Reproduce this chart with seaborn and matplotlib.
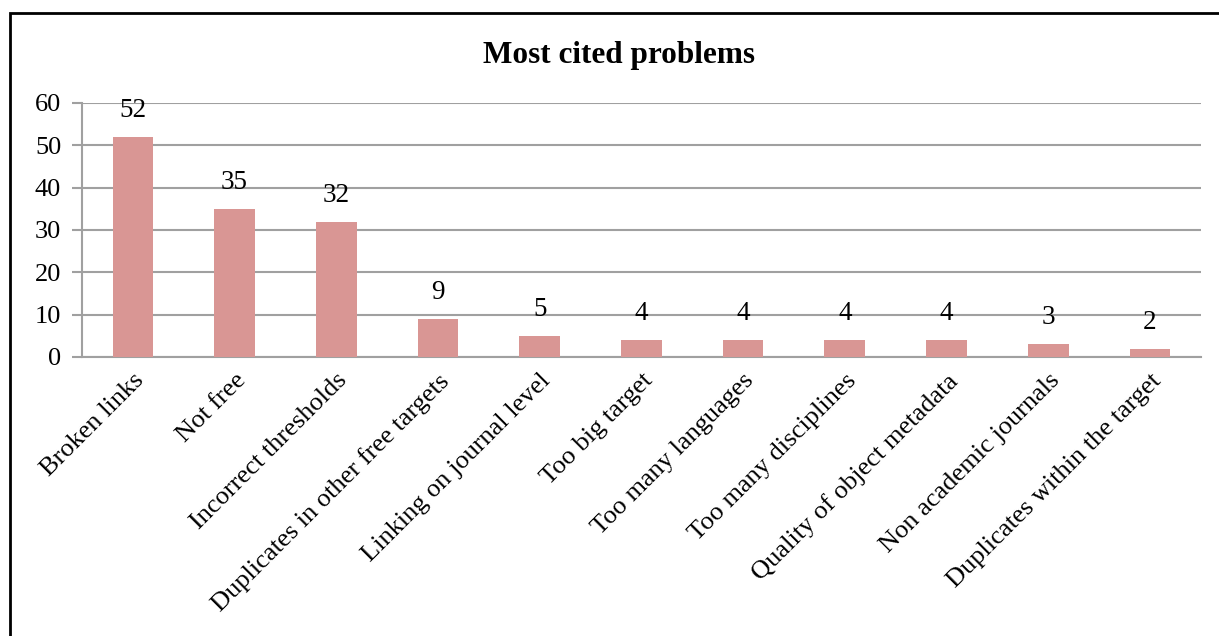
import matplotlib
matplotlib.use("Agg")
import matplotlib.pyplot as plt
import seaborn as sns
import pandas as pd
from matplotlib.patches import Rectangle

# Chart data
problems = ['Broken links', 'Not free', 'Incorrect thresholds',
            'Duplicates in other free targets', 'Linking on journal level',
            'Too big target', 'Too many languages', 'Too many disciplines',
            'Quality of object metadata', 'Non academic journals',
            'Duplicates within the target']
counts = [52, 35, 32, 9, 5, 4, 4, 4, 4, 3, 2]
y_ticks = [0, 10, 20, 30, 40, 50, 60]

df = pd.DataFrame({'problem': problems, 'count': counts})

sns.set_theme(style="white")
plt.rcParams['font.family'] = ['Liberation Serif', 'DejaVu Serif']
plt.rcParams['text.color'] = 'black'
plt.rcParams['xtick.color'] = 'black'
plt.rcParams['ytick.color'] = 'black'

bar_color = '#D99694'
grid_color = '#A0A0A0'

fig = plt.figure(figsize=(12.19, 6.36), dpi=100)
ax = fig.add_axes([0.0673, 0.4387, 0.9177, 0.3994])

sns.barplot(data=df, x='problem', y='count', color=bar_color,
            width=0.4, saturation=1, linewidth=0, ax=ax, zorder=3)

ax.set_ylim(0, 60)
ax.set_xlim(-0.5, len(problems) - 0.5)
ax.set_yticks(y_ticks)
ax.set_yticklabels([str(t) for t in y_ticks], fontsize=19)
ax.set_xlabel('')
ax.set_ylabel('')

# horizontal gridlines
ax.yaxis.grid(True, color=grid_color, linewidth=1.5, zorder=0)
ax.set_axisbelow(True)

for side in ['top', 'right']:
    ax.spines[side].set_visible(False)
for side in ['left', 'bottom']:
    ax.spines[side].set_color(grid_color)
    ax.spines[side].set_linewidth(1.5)

# category boundary ticks like Excel
ax.set_xticks([i - 0.5 for i in range(len(problems) + 1)], minor=True)
ax.tick_params(axis='x', which='minor', length=7, width=1.5, color=grid_color, direction='out')
ax.tick_params(axis='x', which='major', length=0, pad=9, labelcolor='black')
ax.tick_params(axis='y', which='major', length=7, width=1.5, color=grid_color,
               direction='out', left=True, pad=8, labelcolor='black')
ax.set_xticks(range(len(problems)))
ax.set_xticklabels(problems, rotation=45, ha='right', rotation_mode='anchor', fontsize=19)

# value labels
for i, v in enumerate(counts):
    ax.annotate(str(v), (i, v), xytext=(0, 10), textcoords='offset points',
                ha='center', va='bottom', fontsize=19.5, color='black')

fig.suptitle('Most cited problems', x=0.508, y=0.935, fontsize=22.5,
             fontweight='bold', color='black')

# outer border (top and left visible, right/bottom run off the image)
fig.patches.append(Rectangle((10 / 1219, -0.1), 1.2, 1 - 13 / 636 + 0.1,
                             transform=fig.transFigure, fill=False,
                             edgecolor='black', linewidth=2))

fig.savefig('out.png', dpi=100)
